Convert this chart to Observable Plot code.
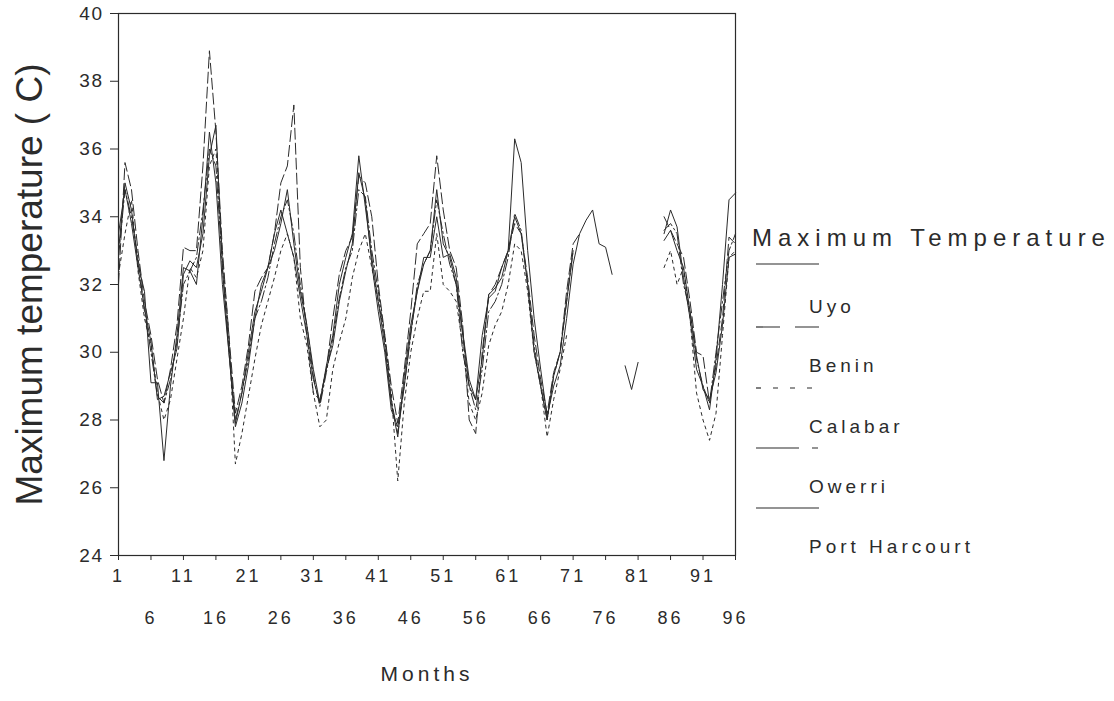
<!DOCTYPE html>
<html><head><meta charset="utf-8">
<script src="https://cdn.jsdelivr.net/npm/d3@7"></script>
<script src="https://cdn.jsdelivr.net/npm/@observablehq/plot@0.6"></script>
<style>
body{margin:0;background:#fff;}
#wrap{position:relative;width:1114px;height:701px;font-family:"Liberation Sans",Arial,sans-serif;}
#wrap svg.plot{position:absolute;left:0;top:0;}
#legend{position:absolute;left:0;top:0;}
.xt text{letter-spacing:3px;}
.yt text{letter-spacing:1.5px;}
.mt text{letter-spacing:4px;}
</style></head><body><div id="wrap"></div>
<script>
// ---- data ----
const months = d3.range(1, 97);
const seriesNames = ["Uyo", "Benin", "Calabar", "Owerri", "Port Harcourt"];
const uyo = [
33.0,35.0,34.2,32.6,31.8,29.1,29.1,26.8,29.0,30.5,32.5,32.4,
32.0,34.0,36.5,35.0,32.0,30.0,27.9,28.8,30.0,31.2,31.8,32.5,
33.0,33.8,34.8,33.2,31.8,30.8,29.5,28.5,29.6,30.5,32.0,32.8,
33.5,35.8,34.3,32.8,31.5,30.2,28.5,27.5,29.3,30.8,31.8,32.6,
33.0,34.8,33.2,32.8,32.0,30.5,29.0,28.6,29.8,31.7,31.9,32.2,
33.0,34.0,33.5,32.0,30.0,29.0,28.0,29.3,30.0,31.5,33.0,null,
null,null,null,null,null,null,29.6,28.9,29.7,null,null,null,
33.5,34.2,33.7,32.2,31.0,29.5,29.0,28.3,29.8,32.0,34.5,34.7];
const benin = [
32.0,35.6,34.8,33.0,31.5,30.5,29.2,28.5,29.5,30.8,33.1,33.0,
33.0,35.5,38.9,36.5,33.0,30.5,28.2,29.0,30.2,31.8,32.2,32.5,
33.5,35.0,35.5,37.3,32.5,30.5,28.8,28.6,29.5,31.0,32.3,33.0,
33.4,35.2,35.0,34.0,32.0,30.5,29.0,27.9,29.5,31.2,33.2,33.5,
33.8,35.8,34.2,33.0,32.5,30.8,28.0,27.6,30.0,31.7,32.0,32.5,
33.0,33.8,33.5,32.2,30.5,29.2,28.2,29.4,30.0,31.8,33.2,33.5,
null,null,null,null,null,null,null,null,null,null,null,null,
34.0,33.6,33.2,32.8,31.5,30.0,29.9,28.5,29.6,31.0,33.4,33.2];
const calabar = [
32.3,33.5,34.5,32.4,31.0,30.2,28.8,28.0,28.6,29.8,31.0,32.5,
32.2,33.0,35.5,36.0,32.8,30.5,26.7,27.6,28.7,29.8,30.8,31.5,
32.2,33.0,33.5,32.8,31.0,30.2,28.8,27.8,28.0,29.5,30.3,31.0,
32.2,33.0,33.5,32.5,31.5,30.5,28.8,26.2,28.5,30.0,31.0,31.8,
31.8,33.5,32.0,31.8,31.5,30.2,28.5,28.0,28.8,30.2,30.8,31.2,
32.0,33.2,33.0,31.8,30.0,29.0,27.5,28.6,29.5,30.5,null,null,
null,null,null,null,null,null,null,null,null,null,null,null,
32.5,33.0,32.0,32.5,31.0,28.8,28.0,27.4,28.2,30.5,32.8,33.0];
const owerri = [
32.8,34.8,34.0,32.8,31.2,30.0,28.7,28.5,29.2,30.3,32.0,32.4,
32.8,34.2,36.0,35.5,32.5,30.2,28.0,28.8,29.8,31.0,31.5,32.2,
33.2,34.0,34.5,33.5,32.0,30.8,29.3,28.4,29.4,30.4,31.6,32.5,
33.0,34.8,34.6,33.0,31.8,30.4,28.6,27.6,29.0,30.5,32.0,32.6,
33.0,34.5,33.5,32.6,32.0,30.0,29.0,28.3,29.5,31.2,31.5,32.0,
32.8,34.1,33.6,32.0,30.2,29.0,28.0,29.3,30.0,31.5,33.0,null,
null,null,null,null,null,null,null,null,null,null,null,null,
33.6,33.8,33.5,32.0,31.2,29.8,29.0,28.5,30.0,31.5,33.0,33.5];
const portHarcourt = [
33.5,34.8,33.8,32.5,31.3,30.3,28.6,28.7,29.4,30.1,32.3,32.7,
32.5,33.5,35.8,36.7,32.5,30.0,27.8,28.5,29.6,31.0,32.0,32.5,
33.5,34.2,33.5,32.8,31.6,30.5,29.2,28.5,29.5,30.2,31.5,32.4,
33.2,35.3,34.5,32.6,31.2,30.0,28.3,27.8,29.0,30.6,31.8,32.8,
32.8,34.0,32.8,32.9,32.2,30.6,29.2,28.6,30.5,31.6,31.8,32.5,
33.0,36.3,35.6,33.0,31.0,29.5,28.1,29.0,29.6,31.0,32.6,33.5,
33.9,34.2,33.2,33.1,32.3,null,null,null,null,null,null,null,
33.3,33.6,33.0,32.5,31.2,29.9,28.9,28.6,29.4,30.8,32.8,32.9];
const yTicks = [24, 26, 28, 30, 32, 34, 36, 38, 40];
const xTicksRow1 = [1, 11, 21, 31, 41, 51, 61, 71, 81, 91];
const xTicksRow2 = [6, 16, 26, 36, 46, 56, 66, 76, 86, 96];
const yTitle = "Maximum temperature ( C)";
const xTitle = "Months";
const legendTitle = "Maximum Temperature";

// ---- styles ----
const ink = "#2b2b2b";
const plotDash = {Uyo: null, Benin: "11,4", Calabar: "3,4", Owerri: "12,3,2,3", "Port Harcourt": null};
const legendDash = [null, "24,15", "5,12", "43,13,6,13", null];

const allSeries = [uyo, benin, calabar, owerri, portHarcourt];
const rows = [];
seriesNames.forEach((name, i) => months.forEach((m, j) => rows.push({series: name, month: m, temp: allSeries[i][j]})));

const lines = seriesNames.map(name => Plot.lineY(rows.filter(r => r.series === name), {
  x: "month", y: "temp", stroke: ink, strokeWidth: 1, strokeDasharray: plotDash[name]
}));

const chart = Plot.plot({
  width: 1114, height: 701,
  marginLeft: 118, marginRight: 379, marginTop: 13, marginBottom: 146,
  style: {fontFamily: '"Liberation Sans", Arial, sans-serif', fontSize: "18px", color: ink, background: "transparent", overflow: "visible"},
  x: {domain: [1, 96]},
  y: {domain: [24, 40]},
  marks: [
    ...lines,
    Plot.frame({stroke: ink, strokeWidth: 1.2}),
    Plot.axisY({ticks: yTicks, tickSize: 8, tickPadding: 7, label: null, fontSize: 19, className: "yt"}),
    Plot.axisX({ticks: xTicksRow1, tickSize: 5, tickPadding: 9, label: null, fontSize: 18, className: "xt"}),
    Plot.axisX({ticks: xTicksRow2, tickSize: 5, tickPadding: 51, label: null, fontSize: 18, className: "xt"}),
    Plot.text([yTitle], {frameAnchor: "left", rotate: -90, dx: -88, textAnchor: "middle", text: d => d, fontSize: 37, fill: ink}),
    Plot.text([xTitle], {frameAnchor: "bottom", dy: 125, textAnchor: "middle", text: d => d, fontSize: 21, fill: ink, className: "mt"})
  ]
});
chart.classList.add("plot");
document.getElementById("wrap").appendChild(chart);

// ---- legend ----
const ns = "http://www.w3.org/2000/svg";
const lg = document.createElementNS(ns, "svg");
lg.setAttribute("id", "legend");
lg.setAttribute("width", 1114); lg.setAttribute("height", 701);
function txt(s, x, y, size, ls) {
  const t = document.createElementNS(ns, "text");
  t.setAttribute("x", x); t.setAttribute("y", y);
  t.setAttribute("font-size", size); t.setAttribute("fill", ink);
  t.setAttribute("dominant-baseline", "middle");
  t.setAttribute("style", `letter-spacing:${ls}px;font-family:"Liberation Sans",Arial,sans-serif`);
  t.textContent = s; lg.appendChild(t);
}
txt(legendTitle, 752, 240, 24, 6.0);
const lineYs = [264, 327, 388, 448, 508];
const labelYs = [308, 367, 428, 488, 548];
seriesNames.forEach((name, i) => {
  const l = document.createElementNS(ns, "line");
  l.setAttribute("x1", 756); l.setAttribute("x2", 819);
  l.setAttribute("y1", lineYs[i]); l.setAttribute("y2", lineYs[i]);
  l.setAttribute("stroke", ink); l.setAttribute("stroke-width", 1.2);
  if (legendDash[i]) l.setAttribute("stroke-dasharray", legendDash[i]);
  lg.appendChild(l);
  txt(name, 809, labelYs[i], 19, 4);
});
document.getElementById("wrap").appendChild(lg);
</script></body></html>
